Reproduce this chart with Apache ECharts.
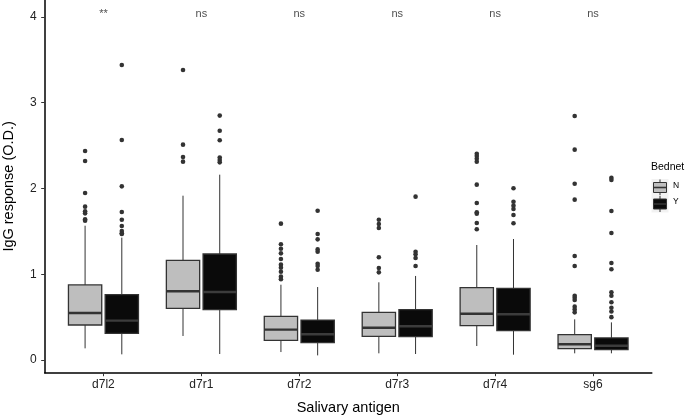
<!DOCTYPE html>
<html>
<head>
<meta charset="utf-8">
<script src="https://cdn.jsdelivr.net/npm/echarts@6/dist/echarts.min.js"></script>
<style>
  html, body { margin: 0; padding: 0; background: #fff; }
  #chart { width: 685px; height: 418px; }
</style>
</head>
<body>
<div id="chart"></div>
<script>
const categories = ['d7l2', 'd7r1', 'd7r2', 'd7r3', 'd7r4', 'sg6']
const groups = ['N', 'Y']
const annotations = ['**', 'ns', 'ns', 'ns', 'ns', 'ns']
const yTicks = [0, 1, 2, 3, 4]

// [lower whisker, q1, median, q3, upper whisker]
const statsN = [
  [0.136, 0.408, 0.548, 0.875, 1.566],
  [0.28, 0.602, 0.801, 1.162, 1.916],
  [0.093, 0.229, 0.354, 0.509, 0.878],
  [0.078, 0.276, 0.377, 0.556, 0.906],
  [0.163, 0.40, 0.54, 0.843, 1.341],
  [0.078, 0.132, 0.183, 0.295, 0.474]
]
const statsY = [
  [0.066, 0.311, 0.459, 0.762, 1.427],
  [0.07, 0.587, 0.793, 1.236, 2.161],
  [0.054, 0.202, 0.30, 0.466, 0.851],
  [0.07, 0.272, 0.393, 0.587, 0.98],
  [0.062, 0.342, 0.533, 0.836, 1.411],
  [0.078, 0.12, 0.167, 0.257, 0.439]
]
const outliersN = [
  [2.437, 2.32, 1.947, 1.788, 1.734, 1.71, 1.64, 1.625],
  [3.382, 2.511, 2.367, 2.313],
  [1.59, 1.349, 1.298, 1.244, 1.178, 1.112, 1.077, 1.03, 0.972, 0.941],
  [1.636, 1.586, 1.539, 1.198, 1.073, 1.022],
  [2.406, 2.379, 2.348, 2.313, 2.045, 1.831, 1.722, 1.706, 1.598, 1.524],
  [2.845, 2.453, 2.056, 1.87, 1.213, 1.096, 0.75, 0.727, 0.70, 0.622, 0.59, 0.556]
]
const outliersY = [
  [3.44, 2.566, 2.025, 1.726, 1.636, 1.563, 1.504, 1.477, 1.47],
  [2.85, 2.674, 2.562, 2.36, 2.332, 2.305],
  [1.741, 1.469, 1.407, 1.29, 1.263, 1.123, 1.096, 1.053],
  [1.905, 1.263, 1.232, 1.19, 1.096],
  [2.002, 1.846, 1.8, 1.761, 1.691, 1.594],
  [2.126, 2.1, 1.738, 1.481, 1.131, 1.058, 0.79, 0.75, 0.673, 0.61, 0.565, 0.5]
]

const fills = ['#bebebe', '#0a0a0a']
const lineColor = '#333333'
const dodge = 0.1875
const boxWidth = 0.34
const fontFamily = '"Liberation Sans", Arial, sans-serif'

const boxData = []
const outlierData = []
;[statsN, statsY].forEach((stats, g) => {
  stats.forEach((s, i) => {
    const x = i + 1 + (g === 0 ? -dodge : dodge)
    boxData.push([x, ...s, g])
  })
})
;[outliersN, outliersY].forEach((list, g) => {
  list.forEach((vals, i) => {
    const x = i + 1 + (g === 0 ? -dodge : dodge)
    vals.forEach(v => outlierData.push([x, v]))
  })
})

const renderBox = (params, api) => {
  const x = api.value(0)
  const g = api.value(6)
  const half = api.size([boxWidth, 0])[0] / 2
  const lo = api.coord([x, api.value(1)])
  const q1 = api.coord([x, api.value(2)])
  const med = api.coord([x, api.value(3)])
  const q3 = api.coord([x, api.value(4)])
  const hi = api.coord([x, api.value(5)])
  const cx = lo[0]
  return {
    type: 'group',
    children: [
      { type: 'line', shape: { x1: cx, y1: hi[1], x2: cx, y2: q3[1] }, style: { stroke: lineColor, lineWidth: 1 } },
      { type: 'line', shape: { x1: cx, y1: q1[1], x2: cx, y2: lo[1] }, style: { stroke: lineColor, lineWidth: 1 } },
      { type: 'rect', shape: { x: cx - half, y: q3[1], width: half * 2, height: q1[1] - q3[1] },
        style: { fill: fills[g], stroke: lineColor, lineWidth: 1.3 } },
      { type: 'line', shape: { x1: cx - half, y1: med[1], x2: cx + half, y2: med[1] },
        style: { stroke: g === 0 ? '#333333' : '#3c3c3c', lineWidth: 2.4 } }
    ]
  }
}

const chart = echarts.init(document.getElementById('chart'))

// legend key glyph: small boxplot on grey95 background
const legendKey = (top, fill) => ({
  type: 'group',
  left: 651, top: top,
  children: [
    { type: 'rect', shape: { x: 0, y: 0, width: 17, height: 17 }, style: { fill: '#f2f2f2' } },
    { type: 'line', shape: { x1: 8.5, y1: 0.5, x2: 8.5, y2: 16.5 }, style: { stroke: lineColor, lineWidth: 1 } },
    { type: 'rect', shape: { x: 2, y: 3.5, width: 13, height: 10 }, style: { fill: fill, stroke: lineColor, lineWidth: 1 } },
    { type: 'line', shape: { x1: 2, y1: 8.5, x2: 15, y2: 8.5 }, style: { stroke: lineColor, lineWidth: 1.6 } }
  ]
})

const option = {
  animation: false,
  grid: { left: 44.7, right: 33.2, top: 0, bottom: 45.3, outerBoundsMode: 'none' },
  xAxis: {
    type: 'value',
    min: 0.4,
    max: 6.6,
    splitLine: { show: false },
    axisLine: { show: true, onZero: false, lineStyle: { color: '#000', width: 1.5 } },
    axisTick: { show: true, customValues: [1, 2, 3, 4, 5, 6], length: 3.5, lineStyle: { color: '#333', width: 1 } },
    axisLabel: {
      customValues: [1, 2, 3, 4, 5, 6],
      formatter: v => categories[Math.round(v) - 1],
      color: '#222', fontSize: 12, fontFamily, margin: 6
    },
    name: 'Salivary antigen',
    nameLocation: 'middle',
    nameGap: 28,
    nameTextStyle: { color: '#000', fontSize: 14.5, fontFamily }
  },
  yAxis: {
    type: 'value',
    min: -0.148,
    max: 4.198,
    splitLine: { show: false },
    axisLine: { show: true, onZero: false, lineStyle: { color: '#000', width: 1.5 } },
    axisTick: { show: true, customValues: yTicks, length: 3.5, lineStyle: { color: '#333', width: 1 } },
    axisLabel: {
      customValues: yTicks,
      color: '#222', fontSize: 12, fontFamily, margin: 8
    },
    name: 'IgG response (O.D.)',
    nameLocation: 'middle',
    nameGap: 28,
    nameRotate: 90,
    nameTextStyle: { color: '#000', fontSize: 14.5, fontFamily }
  },
  series: [
    {
      type: 'custom',
      renderItem: renderBox,
      data: boxData,
      encode: { x: 0, y: [1, 2, 3, 4, 5] },
      z: 2
    },
    {
      type: 'scatter',
      data: outlierData,
      symbolSize: 4.6,
      itemStyle: { color: '#333333', opacity: 1 },
      z: 3
    },
    {
      type: 'scatter',
      data: annotations.map((a, i) => ({ value: [i + 1, 4.03], label: { formatter: a } })),
      symbolSize: 0,
      label: { show: true, position: 'inside', color: '#222', fontSize: 11, fontFamily },
      z: 4
    }
  ],
  graphic: [
    { type: 'text', left: 651, top: 162, style: { text: 'Bednet', fill: '#000', font: '10.5px ' + fontFamily } },
    legendKey(177, fills[0]),
    legendKey(193.5, fills[1]),
    { type: 'text', left: 673, top: 181, style: { text: groups[0], fill: '#000', font: '8.5px ' + fontFamily } },
    { type: 'text', left: 673, top: 197.5, style: { text: groups[1], fill: '#000', font: '8.5px ' + fontFamily } }
  ]
}

chart.setOption(option)
</script>
</body>
</html>
